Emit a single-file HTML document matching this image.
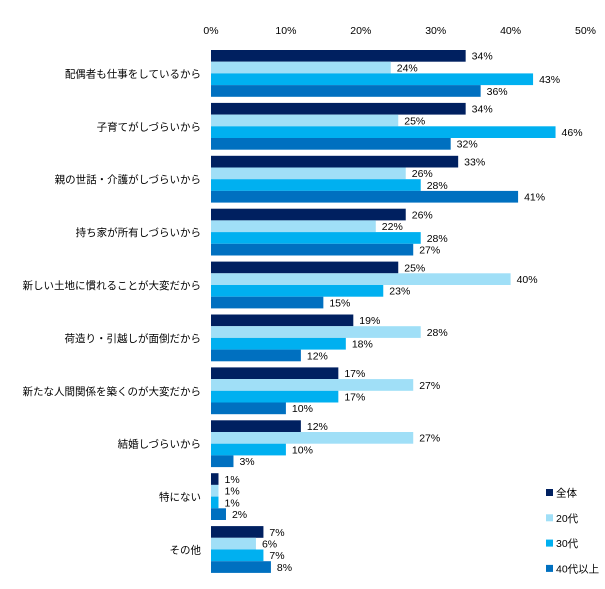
<!DOCTYPE html>
<html><head><meta charset="utf-8"><style>
body{margin:0;background:#fff;}
svg text{font-family:"Liberation Sans","Noto Sans CJK JP",sans-serif;font-size:10.5px;fill:#000;}
</style></head><body>
<svg id="chart" width="605" height="584" xmlns="http://www.w3.org/2000/svg"></svg>
<script>
const categories=["配偶者も仕事をしているから","子育てがしづらいから","親の世話・介護がしづらいから","持ち家が所有しづらいから","新しい土地に慣れることが大変だから","荷造り・引越しが面倒だから","新たな人間関係を築くのが大変だから","結婚しづらいから","特にない","その他"];
const seriesNames=["全体","20代","30代","40代以上"];
const sAll=[34,34,33,26,25,19,17,12,1,7];
const s20=[24,25,26,22,40,28,27,27,1,6];
const s30=[43,46,28,28,23,18,17,10,1,7];
const s40=[36,32,41,27,15,12,10,3,2,8];
const ticks=[0,10,20,30,40,50];
const colors=["#002060","#a0dff7","#00b0f0","#0070c0"];
const series=[sAll,s20,s30,s40];
const svg=document.getElementById('chart');
const NS="http://www.w3.org/2000/svg";
const x0=211, pxPer=7.49, groupTop=50, pitch=52.9, bh=11.7;
const xs=v=>x0+v*pxPer;
function mk(tag,attrs){const e=document.createElementNS(NS,tag);for(const k in attrs)e.setAttribute(k,attrs[k]);svg.appendChild(e);return e;}
ticks.forEach(t=>{
  const e=mk('text',{x:xs(t),y:34,'text-anchor':'middle'});e.textContent=t+'%';
  
  
});
categories.forEach((c,i)=>{
  const gy=groupTop+i*pitch;
  const l=mk('text',{x:201,y:gy+bh*2+4,'text-anchor':'end'});l.textContent=c;
  
  
  series.forEach((s,j)=>{
    const y=gy+j*bh;
    const r=mk('rect',{x:x0,y:y,width:s[i]*pxPer,height:bh,fill:colors[j]});
    
    
    const t=mk('text',{x:xs(s[i])+6,y:y+bh-2});t.textContent=s[i]+'%';
    
    
  });
});
seriesNames.forEach((n,j)=>{
  const y=489+j*25.3;
  const r=mk('rect',{x:546,y:y,width:7,height:7,fill:colors[j]});
  
  
  const t=mk('text',{x:556,y:y+7.5});t.textContent=n;
  
  
});
</script>
</body></html>
